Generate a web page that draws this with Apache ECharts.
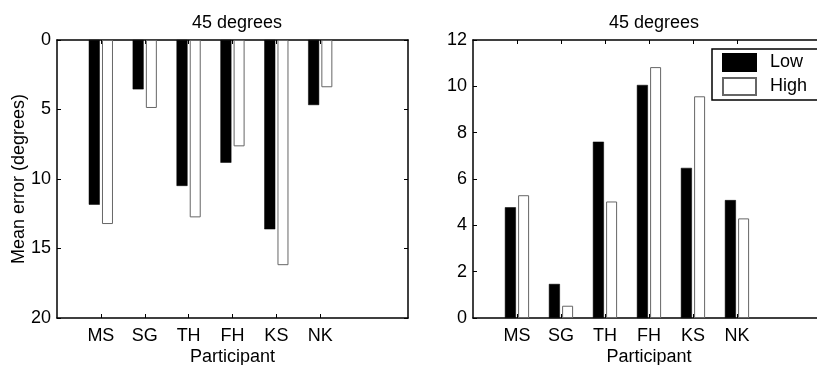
<!DOCTYPE html>
<html>
<head>
<meta charset="utf-8">
<script src="https://cdn.jsdelivr.net/npm/echarts@6/dist/echarts.min.js"></script>
<style>
  html, body { margin: 0; padding: 0; background: #fff; }
  #chart { width: 817px; height: 365px; }
</style>
</head>
<body>
<div id="chart"></div>
<script>
// participants, plotted at x = 1..6 of an axis running 0..8
var participants = ['MS', 'SG', 'TH', 'FH', 'KS', 'NK'];

// left panel: mean error (degrees), axis drawn upside down
var leftLow = [11.85, 3.55, 10.5, 8.83, 13.62, 4.68];
var leftHigh = [13.24, 4.89, 12.76, 7.65, 16.2, 3.4];

// right panel
var rightLow = [4.78, 1.47, 7.61, 10.06, 6.48, 5.09];
var rightHigh = [5.3, 0.53, 5.03, 10.83, 9.57, 4.3];

var font = 'Liberation Sans, Arial, Helvetica, sans-serif';
var fs = 18;

// pad the category list so the axis runs from 0 to 8
var cats = ['_0'].concat(participants, ['_7', '_8']);
function pad(values) {
    return [null].concat(values, [null, null]);
}
function isReal(v) {
    return v.charAt(0) !== '_';
}

function xAxes(gridIndex, withName) {
    return [
        {
            gridIndex: gridIndex,
            type: 'category',
            data: cats,
            boundaryGap: false,
            position: 'bottom',
            axisLine: { onZero: false, lineStyle: { color: '#000', width: 1.5 } },
            axisTick: {
                inside: true, length: 4, lineStyle: { color: '#000' },
                interval: function (i, v) { return isReal(v); }
            },
            axisLabel: {
                interval: function (i, v) { return isReal(v); },
                formatter: function (v) { return isReal(v) ? v : ''; },
                color: '#000', fontFamily: font, fontSize: fs, margin: 9
            },
            name: withName ? 'Participant' : '',
            nameLocation: 'middle',
            nameGap: 30,
            nameMoveOverlap: false,
            nameTextStyle: { color: '#000', fontFamily: font, fontSize: fs },
            splitLine: { show: false }
        },
        {
            gridIndex: gridIndex,
            type: 'category',
            data: cats,
            boundaryGap: false,
            position: 'top',
            axisLine: { onZero: false, lineStyle: { color: '#000', width: 1.5 } },
            axisTick: {
                inside: true, length: 4, lineStyle: { color: '#000' },
                interval: function (i, v) { return isReal(v); }
            },
            axisLabel: { show: false },
            splitLine: { show: false }
        }
    ];
}

function yAxes(gridIndex, max, interval, inverse, name) {
    return [
        {
            gridIndex: gridIndex,
            type: 'value',
            min: 0, max: max, interval: interval,
            inverse: inverse,
            position: 'left',
            axisLine: { show: true, onZero: false, lineStyle: { color: '#000', width: 1.5 } },
            axisTick: { show: true, inside: true, length: 4, lineStyle: { color: '#000' } },
            axisLabel: { color: '#000', fontFamily: font, fontSize: fs, margin: 6 },
            splitLine: { show: false },
            name: name,
            nameLocation: 'middle',
            nameGap: 29,
            nameMoveOverlap: false,
            nameTextStyle: { color: '#000', fontFamily: font, fontSize: fs },
        },
        {
            gridIndex: gridIndex,
            type: 'value',
            min: 0, max: max, interval: interval,
            inverse: inverse,
            position: 'right',
            axisLine: { show: true, onZero: false, lineStyle: { color: '#000', width: 1.5 } },
            axisTick: { show: true, inside: true, length: 4, lineStyle: { color: '#000' } },
            axisLabel: { show: false },
            splitLine: { show: false }
        }
    ];
}

function bars(name, values, axisBase, dark) {
    return {
        name: name,
        type: 'bar',
        xAxisIndex: axisBase,
        yAxisIndex: axisBase,
        data: pad(values),
        barWidth: 11,
        barGap: '20%',
        silent: true,
        itemStyle: dark
            ? { color: '#000', borderColor: '#000', borderWidth: 0.5 }
            : { color: '#fff', borderColor: '#666', borderWidth: 1 }
    };
}

var option = {
    animation: false,
    backgroundColor: '#fff',
    textStyle: { fontFamily: font },
    title: [
        {
            text: '45 degrees', left: 232, top: 9, textAlign: 'center',
            textStyle: { fontFamily: font, fontSize: fs, fontWeight: 'normal', color: '#000' }
        },
        {
            text: '45 degrees', left: 649, top: 9, textAlign: 'center',
            textStyle: { fontFamily: font, fontSize: fs, fontWeight: 'normal', color: '#000' }
        }
    ],
    legend: {
        data: ['Low', 'High'],
        orient: 'vertical',
        left: 712,
        top: 49,
        icon: 'rect',
        itemWidth: 33,
        itemHeight: 17,
        itemGap: 5,
        padding: [4, 12, 4, 10],
        backgroundColor: '#fff',
        borderColor: '#000',
        borderWidth: 1.5,
        borderRadius: 0,
        selectedMode: false,
        textStyle: { color: '#000', fontFamily: font, fontSize: fs, lineHeight: 17, padding: [0, 0, 0, 9] }
    },
    grid: [
        { left: 57, top: 40, width: 351, height: 278, outerBoundsMode: 'none', containLabel: false },
        { left: 473, top: 40, width: 352, height: 278, outerBoundsMode: 'none', containLabel: false }
    ],
    xAxis: xAxes(0, true).concat(xAxes(1, true)),
    yAxis: yAxes(0, 20, 5, true, 'Mean error (degrees)').concat(yAxes(1, 12, 2, false, '')),
    series: [
        bars('Low', leftLow, 0, true),
        bars('High', leftHigh, 0, false),
        bars('Low', rightLow, 2, true),
        bars('High', rightHigh, 2, false)
    ]
};

echarts.init(document.getElementById('chart')).setOption(option);
</script>
</body>
</html>
